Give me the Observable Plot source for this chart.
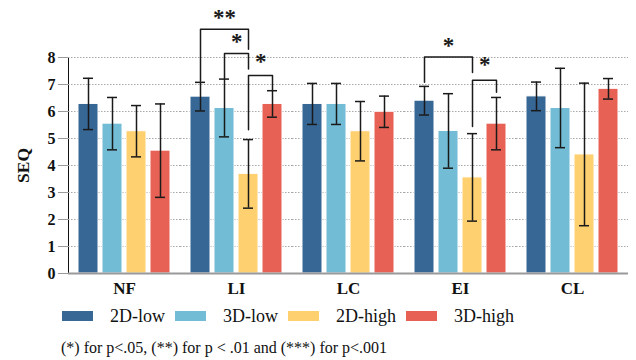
<!DOCTYPE html>
<html><head><meta charset="utf-8">
<script src="https://cdn.jsdelivr.net/npm/d3@7"></script>
<script src="https://cdn.jsdelivr.net/npm/@observablehq/plot@0.6"></script>
<style>
body{margin:0;background:#fff;}
#wrap{position:relative;width:636px;height:360px;font-family:"Liberation Serif","Times New Roman",serif;color:#111;}
#legend{position:absolute;left:62px;top:304px;height:24px;display:flex;align-items:center;font-size:18px;}
.item{display:flex;align-items:center;margin-right:10px;}
.sw{width:31px;height:10px;margin-right:17px;}
#caption{position:absolute;left:61px;top:337px;font-size:16px;line-height:22px;white-space:nowrap;}
svg g[aria-label="y-axis tick"] path{stroke:#9a9a9a;}
svg g[aria-label="y-axis label"] text{font-size:17.5px;}
svg g[aria-label="fx-axis tick label"] text{font-size:17px;}
</style></head><body>
<div id="wrap"><div id="chart"></div><div id="legend"></div><div id="caption">(*) for p&lt;.05, (**) for p &lt; .01 and (***) for p&lt;.001</div></div>
<script>
// ---- data ----
const groups = ["NF", "LI", "LC", "EI", "CL"];
const series = ["2D-low", "3D-low", "2D-high", "3D-high"];
const colors = ["#376795", "#72bcd5", "#ffd06f", "#e76254"];
const yTicks = [0, 1, 2, 3, 4, 5, 6, 7, 8];
const mean2DLow  = [6.28, 6.55, 6.28, 6.40, 6.56];
const mean3DLow  = [5.55, 6.13, 6.28, 5.28, 6.13];
const mean2DHigh = [5.27, 3.69, 5.27, 3.56, 4.41];
const mean3DHigh = [4.55, 6.28, 5.99, 5.55, 6.84];
const err2DLow  = [0.95, 0.53, 0.76, 0.53, 0.53];
const err3DLow  = [0.97, 1.07, 0.76, 1.38, 1.47];
const err2DHigh = [0.95, 1.27, 1.10, 1.62, 2.64];
const err3DHigh = [1.73, 0.49, 0.58, 0.97, 0.38];
// significance brackets: group, then path points [series, value]
const brackets = [
  {group: "LI", pts: [["2D-low", 7.12], ["2D-low", 9.05], ["2D-high", 9.05], ["2D-high", 8.31]]},
  {group: "LI", pts: [["3D-low", 7.22], ["3D-low", 8.15], ["2D-high", 8.15], ["2D-high", 7.57]]},
  {group: "LI", pts: [["2D-high", 5.32], ["2D-high", 7.33], ["3D-high", 7.33], ["3D-high", 6.78]]},
  {group: "EI", pts: [["2D-low", 7.08], ["2D-low", 8.02], ["2D-high", 8.02], ["2D-high", 7.44]]},
  {group: "EI", pts: [["2D-high", 5.44], ["2D-high", 7.16], ["3D-high", 7.16], ["3D-high", 6.71]]}
];
// stars: centered over a bar ("on"), or between this bar and the next ("between")
const starsOn = [
  {group: "LI", at: "3D-low", value: 9.56, label: "**"},
  {group: "EI", at: "3D-low", value: 8.52, label: "*"}
];
const starsBetween = [
  {group: "LI", at: "3D-low", value: 8.65, label: "*"},
  {group: "LI", at: "2D-high", value: 7.93, label: "*"},
  {group: "EI", at: "2D-high", value: 7.80, label: "*"}
];

// ---- build table ----
const means = [mean2DLow, mean3DLow, mean2DHigh, mean3DHigh];
const errs = [err2DLow, err3DLow, err2DHigh, err3DHigh];
const rows = [];
groups.forEach((g, gi) => series.forEach((s, si) => {
  const m = means[si][gi], e = errs[si][gi];
  rows.push({group: g, series: s, mean: m, lo: m - e, hi: m + e});
}));
const bracketPts = [];
brackets.forEach((b, bi) => b.pts.forEach(([s, v]) => bracketPts.push({id: bi, group: b.group, series: s, value: v})));

const ink = "#1a1a1a";
const chart = Plot.plot({
  width: 636, height: 300,
  marginLeft: 66, marginRight: 6, marginTop: 57, marginBottom: 27,
  style: {fontFamily: "'Liberation Serif', serif", fontWeight: "bold", fontSize: "16px", color: "#111", background: "white", overflow: "visible"},
  fx: {domain: groups, padding: 0, label: null, tickSize: 0, tickPadding: 8, axis: "bottom"},
  x: {domain: series, paddingInner: 0.15, paddingOuter: 0.38, axis: null},
  y: {domain: [0, 8], ticks: yTicks, tickSize: 10, tickPadding: 3, line: true, label: "SEQ", labelArrow: "none", labelAnchor: "center", labelOffset: 52},
  color: {domain: series, range: colors},
  marks: [
    Plot.ruleY(yTicks.slice(1), {stroke: "#a8a8a8", strokeDasharray: "1.5,1.5", strokeWidth: 1}),
    Plot.barY(rows, {fx: "group", x: "series", y: "mean", fill: "series", stroke: "white", strokeWidth: 1}),
    Plot.ruleY([0], {stroke: "#999", strokeWidth: 2}),
    Plot.ruleX(rows, {fx: "group", x: "series", y1: "lo", y2: "hi", stroke: ink, strokeWidth: 1.5}),
    Plot.tickY(rows, {fx: "group", x: "series", y: "lo", insetLeft: 5, insetRight: 5, stroke: ink, strokeWidth: 1.5}),
    Plot.tickY(rows, {fx: "group", x: "series", y: "hi", insetLeft: 5, insetRight: 5, stroke: ink, strokeWidth: 1.5}),
    Plot.line(bracketPts, {fx: "group", x: "series", y: "value", z: "id", stroke: ink, strokeWidth: 1.5}),
    Plot.text(starsOn, {fx: "group", x: "at", y: "value", text: "label", dy: 2, fontSize: 23, fontWeight: "bold", fill: ink}),
    Plot.text(starsBetween, {fx: "group", x: "at", y: "value", text: "label", dx: 12.3, dy: 2, fontSize: 23, fontWeight: "bold", fill: ink})
  ]
});
document.getElementById("chart").appendChild(chart);

const legend = document.getElementById("legend");
series.forEach((s, i) => {
  const it = document.createElement("div");
  it.className = "item";
  it.innerHTML = `<span class="sw" style="background:${colors[i]}"></span><span>${s}</span>`;
  legend.appendChild(it);
});
</script>
</body></html>
